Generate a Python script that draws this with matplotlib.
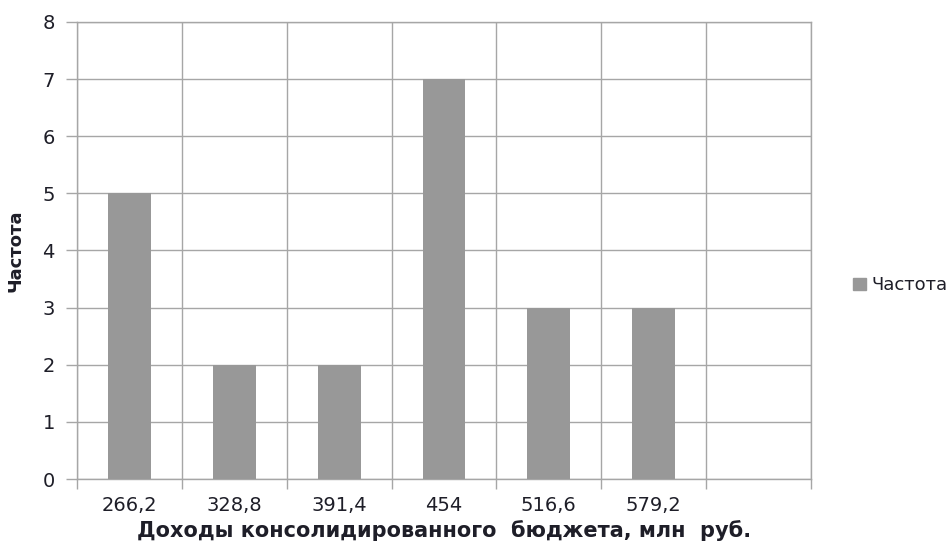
import numpy as np
import matplotlib.pyplot as plt
from matplotlib.patches import Patch

# Frequency of budget revenue intervals
labels = ['266,2', '328,8', '391,4', '454', '516,6', '579,2', '']
freq = [5, 2, 2, 7, 3, 3, 0]

BAR_COLOR = '#989898'
GRID_COLOR = '#a6a6a6'
TEXT_COLOR = '#1e1e28'

plt.rcParams['font.family'] = ['DejaVu Sans']

fig = plt.figure(figsize=(9.53, 5.49), dpi=100)
ax = fig.add_axes([0.0808, 0.1275, 0.7702, 0.8325])

x = np.arange(len(labels))
ax.bar(x, freq, width=0.41, color=BAR_COLOR, zorder=3)

ax.set_xlim(-0.5, len(labels) - 0.5)
ax.set_ylim(0, 8)

# category labels in the middle, grid/ticks on slot boundaries
ax.set_xticks(x)
ax.set_xticklabels(labels)
ax.set_xticks(np.arange(len(labels) + 1) - 0.5, minor=True)
ax.tick_params(axis='x', which='major', length=0, pad=12, labelsize=14, labelcolor=TEXT_COLOR)
ax.tick_params(axis='x', which='minor', length=7, width=1, color=GRID_COLOR)
ax.set_yticks(range(0, 9))
ax.tick_params(axis='y', length=8, width=1, color=GRID_COLOR, pad=8, labelsize=14, labelcolor=TEXT_COLOR)

ax.grid(axis='x', which='minor', color=GRID_COLOR, linewidth=1, zorder=0)
ax.grid(axis='y', which='major', color=GRID_COLOR, linewidth=1, zorder=0)
for s in ax.spines.values():
    s.set_color(GRID_COLOR)
    s.set_linewidth(1)

ax.set_xlabel('Доходы консолидированного  бюджета, млн  руб.', fontsize=15,
              fontweight='bold', color=TEXT_COLOR, labelpad=4)
ax.set_ylabel('Частота', fontsize=13, fontweight='bold', color=TEXT_COLOR, labelpad=13)

fig.legend(handles=[Patch(color=BAR_COLOR, label='Частота')], loc='center left',
           bbox_to_anchor=(0.878, 0.48), frameon=False, fontsize=13,
           handlelength=0.7, handleheight=0.7, handletextpad=0.3,
           labelcolor=TEXT_COLOR)

fig.savefig('out.png', dpi=100)
